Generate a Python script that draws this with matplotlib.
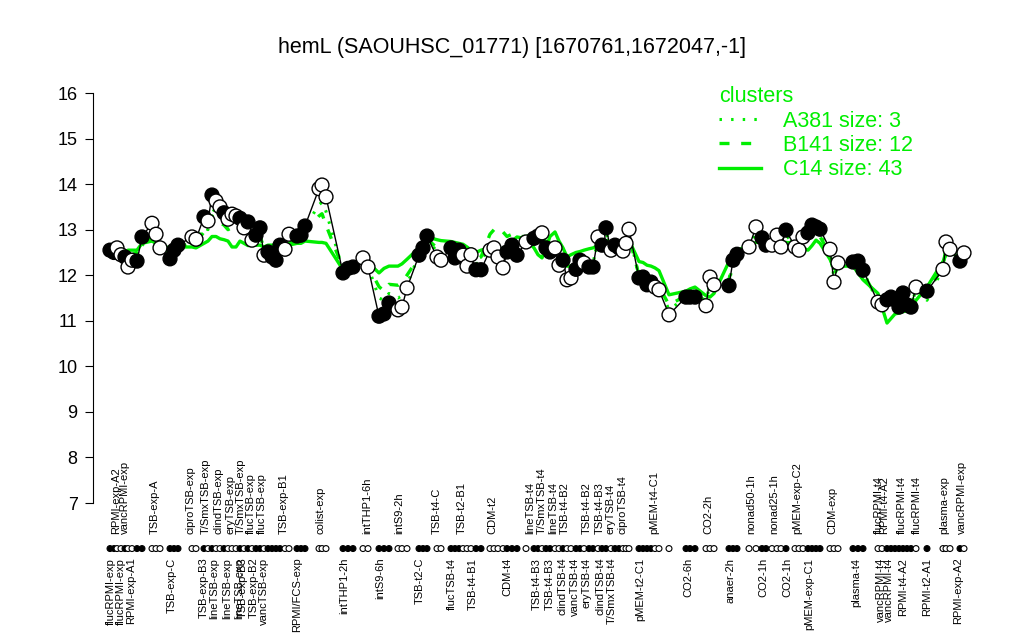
import matplotlib
matplotlib.use("Agg")
import matplotlib.pyplot as plt
from matplotlib.lines import Line2D

plt.rcParams['font.family'] = ['Liberation Sans', 'DejaVu Sans']

title = "hemL (SAOUHSC_01771) [1670761,1672047,-1]"

# sample positions along the condition axis (groups separated by gaps)
pos = [110, 114, 117, 121, 125, 128, 132, 137, 142,
       152, 156, 160,
       170, 174, 178,
       192, 196,
       204, 208, 212, 216, 220, 224, 228, 232, 236, 240, 244, 248, 252, 256, 260, 264, 268, 272, 276, 280,
       285, 289,
       297, 301, 305,
       319, 322, 326,
       343, 348, 353,
       363, 368,
       379, 384, 389,
       398, 402, 407,
       419, 423, 427,
       437, 441,
       451, 455, 459, 463, 467, 471, 476, 481,
       490, 494, 498, 503, 507, 512, 517,
       526, 534, 538, 542, 546, 550, 555, 559, 563,
       567, 571, 576, 580, 584, 589, 593, 598, 602, 606, 611, 615, 619, 623, 626, 629,
       639, 643, 647, 651, 655, 659,
       669,
       686, 690, 695,
       706, 710, 714,
       729, 733, 737,
       749, 756,
       762, 766,
       772, 777, 781, 786,
       795, 799, 803, 808, 812, 816, 820,
       830, 834, 838,
       853, 858, 863,
       878, 882, 887, 891, 895, 899, 903, 907, 911, 916,
       927,
       943, 946, 950,
       960, 964]

expr = [12.55, 12.50, 12.60, 12.45, 12.40, 12.18, 12.33, 12.31, 12.84,
        13.14, 12.90, 12.60,
        12.36, 12.55, 12.66,
        12.84, 12.79,
        13.28, 13.19, 13.76, 13.63, 13.50, 13.37, 13.23, 13.34, 13.30, 13.25, 13.04, 13.17, 12.77, 12.88,
        13.04, 12.44, 12.51, 12.40, 12.33, 12.66,
        12.57, 12.90,
        12.86, 12.88, 13.08,
        13.90, 13.98, 13.72,
        12.05, 12.15, 12.18,
        12.38, 12.18,
        11.10, 11.15, 11.39,
        11.24, 11.30, 11.72,
        12.44, 12.60, 12.86,
        12.40, 12.33,
        12.60, 12.38, 12.55, 12.44, 12.20, 12.45, 12.12, 12.12,
        12.55, 12.60, 12.40, 12.16, 12.51, 12.66, 12.44,
        12.73, 12.81, 12.86, 12.93, 12.60, 12.51, 12.60, 12.22, 12.33,
        11.90, 11.94, 12.13, 12.33, 12.27, 12.18, 12.18, 12.84, 12.66, 13.04, 12.55, 12.66, 12.60, 12.53,
        12.70, 13.01,
        11.94, 11.96, 11.79, 11.85, 11.74, 11.68,
        11.13,
        11.52, 11.52, 11.52,
        11.33, 11.96, 11.79,
        11.77, 12.33, 12.46,
        12.62, 13.06,
        12.82, 12.66,
        12.66, 12.88, 12.62, 12.99,
        12.62, 12.55, 12.84, 12.93, 13.10, 13.06, 13.01,
        12.57, 11.85, 12.27,
        12.29, 12.31, 12.11,
        11.41, 11.35, 11.46, 11.52, 11.46, 11.30, 11.61, 11.35, 11.30, 11.74,
        11.65,
        12.13, 12.73, 12.57,
        12.31, 12.49]

filled = [1, 1, 0, 0, 1, 0, 0, 1, 1,
          0, 0, 0,
          1, 1, 1,
          0, 0,
          1, 0, 1, 0, 0, 1, 0, 0, 0, 1, 0, 1, 0, 1, 1, 0, 1, 1, 1, 1,
          0, 0,
          1, 1, 1,
          0, 0, 0,
          1, 1, 1,
          0, 0,
          1, 1, 1,
          0, 0, 0,
          1, 1, 1,
          0, 0,
          1, 1, 1, 0, 0, 0, 1, 1,
          0, 0, 0, 0, 1, 1, 1,
          0, 1, 1, 0, 1, 1, 0, 0, 1,
          0, 0, 1, 1, 0, 1, 1, 0, 1, 1, 0, 1, 1, 0, 0, 0,
          1, 1, 1, 1, 0, 0,
          0,
          1, 1, 1,
          0, 0, 0,
          1, 1, 1,
          0, 0,
          1, 1,
          0, 0, 0, 1,
          0, 0, 0, 1, 1, 1, 1,
          0, 0, 0,
          1, 1, 1,
          0, 0, 1, 1, 1, 1, 1, 1, 1, 0,
          1,
          0, 0, 0,
          1, 0]

# cluster mean profiles
c14 = [12.45, 12.45, 12.50, 12.50, 12.50, 12.55, 12.55, 12.55, 12.70,
       12.75, 12.70, 12.65,
       12.60, 12.62, 12.62,
       12.62, 12.60,
       12.70, 12.75, 12.85, 12.85, 12.80, 12.78, 12.75, 12.62, 12.62, 12.75, 12.70, 12.65, 12.66, 12.66,
       12.66, 12.62, 12.66, 12.66, 12.66, 12.66,
       12.66, 12.66,
       12.70, 12.70, 12.75,
       12.72, 12.72, 12.70,
       12.12, 12.15, 12.20,
       12.30, 12.28,
       12.05, 12.15, 12.20,
       12.20, 12.25, 12.35,
       12.60, 12.75, 12.84,
       12.78, 12.76,
       12.74, 12.72, 12.70, 12.68, 12.62, 12.55, 12.50, 12.55,
       12.60, 12.62, 12.60, 12.58, 12.65, 12.75, 12.84,
       12.80, 12.60, 12.45, 12.38, 12.60, 12.85, 12.95, 12.75, 12.60,
       12.40, 12.45, 12.50, 12.52, 12.55, 12.58, 12.60, 12.65, 12.65, 12.68, 12.70, 12.70, 12.72, 12.72,
       12.75, 12.77,
       12.30, 12.28, 12.22, 12.20, 12.16, 12.10,
       11.57,
       11.65, 11.70, 11.74,
       11.55, 11.52, 11.60,
       12.30, 12.50, 12.55,
       12.65, 12.72,
       12.72, 12.75,
       12.72, 12.75, 12.70, 12.72,
       12.70, 12.65, 12.60, 12.55, 12.65, 12.77, 12.70,
       12.35, 12.15, 12.20,
       12.20, 12.05, 11.90,
       11.60, 11.30, 10.95, 11.05, 11.15, 11.17, 11.20, 11.22, 11.24, 11.45,
       11.74,
       12.30, 12.45, 12.55,
       12.50, 12.45]

b141 = [12.50, 12.50, 12.55, 12.50, 12.45, 12.40, 12.45, 12.50, 12.65,
        12.85, 12.75, 12.60,
        12.50, 12.60, 12.62,
        12.70, 12.72,
        12.95, 13.00, 13.30, 13.25, 13.15, 13.10, 13.00, 13.05, 13.05, 13.00, 12.95, 12.95, 12.80, 12.80,
        12.85, 12.60, 12.55, 12.50, 12.45, 12.55,
        12.60, 12.70,
        12.80, 12.85, 12.95,
        13.30, 13.35, 13.10,
        12.15, 12.15, 12.18,
        12.30, 12.20,
        11.75, 11.65, 11.80,
        11.78, 11.85, 12.00,
        12.40, 12.60, 12.80,
        12.60, 12.55,
        12.60, 12.50, 12.55, 12.50, 12.40, 12.45, 12.35, 12.40,
        12.90, 13.00, 13.05, 12.95, 12.85, 12.90, 12.85,
        12.85, 12.90, 12.95, 12.95, 12.70, 12.65, 12.70, 12.50, 12.45,
        12.20, 12.20, 12.30, 12.40, 12.40, 12.35, 12.35, 12.70, 12.65, 12.80, 12.60, 12.65, 12.60, 12.60,
        12.70, 12.85,
        12.00, 11.98, 11.85, 11.88, 11.80, 11.75,
        11.35,
        11.55, 11.55, 11.55,
        11.45, 11.80, 11.75,
        11.90, 12.35, 12.45,
        12.60, 12.85,
        12.80, 12.70,
        12.70, 12.80, 12.65, 12.85,
        12.65, 12.60, 12.75, 12.80, 12.95, 12.90, 12.85,
        12.45, 12.00, 12.20,
        12.25, 12.20, 12.05,
        11.45, 11.40, 11.45, 11.48, 11.45, 11.35, 11.50, 11.38, 11.35, 11.65,
        11.60,
        12.20, 12.60, 12.55,
        12.35, 12.45]

a381 = [12.45, 12.50, 12.55, 12.45, 12.40, 12.35, 12.35, 12.35, 12.65,
        12.90, 12.80, 12.60,
        12.45, 12.55, 12.65,
        12.75, 12.75,
        13.05, 13.00, 13.45, 13.40, 13.30, 13.20, 13.10, 13.15, 13.10, 13.05, 12.95, 13.00, 12.80, 12.80,
        12.90, 12.50, 12.50, 12.40, 12.35, 12.60,
        12.60, 12.75,
        12.85, 12.90, 13.05,
        13.55, 13.60, 13.40,
        12.10, 12.12, 12.15,
        12.32, 12.20,
        11.50, 11.45, 11.60,
        11.50, 11.55, 11.80,
        12.45, 12.60, 12.85,
        12.50, 12.45,
        12.60, 12.45, 12.55, 12.50, 12.30, 12.45, 12.25, 12.30,
        12.70, 12.75, 12.60, 12.50, 12.70, 12.80, 12.65,
        12.80, 12.85, 12.90, 12.95, 12.65, 12.60, 12.65, 12.35, 12.40,
        12.05, 12.10, 12.20, 12.35, 12.35, 12.25, 12.25, 12.80, 12.65, 12.95, 12.60, 12.65, 12.60, 12.55,
        12.70, 12.95,
        11.95, 11.95, 11.80, 11.85, 11.72, 11.70,
        11.25,
        11.50, 11.50, 11.50,
        11.35, 11.90, 11.75,
        11.80, 12.30, 12.45,
        12.60, 12.95,
        12.80, 12.65,
        12.65, 12.85, 12.60, 12.90,
        12.60, 12.55, 12.80, 12.85, 13.00, 12.95, 12.90,
        12.50, 11.95, 12.25,
        12.30, 12.25, 12.10,
        11.40, 11.35, 11.45, 11.50, 11.45, 11.30, 11.55, 11.35, 11.30, 11.70,
        11.45,
        12.15, 12.65, 12.55,
        12.30, 12.45]

top_pos = [116, 125, 155, 191, 206, 218, 230, 241, 251, 262, 284, 321,
           367, 399, 437, 462, 492, 530, 542, 553, 565, 587, 600, 611, 622,
           654, 708, 751, 774, 797, 832, 879, 884, 902, 917, 944, 962]
top_text = ["RPMI-exp-A2", "vancRPMI-exp", "TSB-exp-A", "ciproTSB-exp", "T/SmxTSB-exp",
            "clindTSB-exp", "eryTSB-exp", "T/SmxTSB-exp", "flucTSB-exp", "flucTSB-exp",
            "TSB-exp-B1", "colist-exp",
            "intTHP1-6h", "intS9-2h", "TSB-t4-C", "TSB-t2-B1", "CDM-t2", "lineTSB-t4",
            "T/SmxTSB-t4", "lineTSB-t4", "TSB-t4-B2", "TSB-t4-B2", "TSB-t4-B3", "eryTSB-t4",
            "ciproTSB-t4",
            "pMEM-t4-C1", "CO2-2h", "nonad50-1h", "nonad25-1h", "pMEM-exp-C2", "CDM-exp",
            "flucRPMI-t4", "RPMI-t4-A2", "flucRPMI-t4", "flucRPMI-t4", "plasma-exp", "vancRPMI-exp"]

bot_pos = [111, 121, 131, 172, 204, 214, 227, 239, 243, 254, 264, 297,
           344, 380, 420, 452, 473, 507, 537, 550, 562, 575, 587, 600, 612,
           640, 688, 731, 763, 787, 809, 856, 881, 889, 903, 927, 958]
bot_text = ["flucRPMI-exp", "flucRPMI-exp", "RPMI-exp-A1", "TSB-exp-C", "TSB-exp-B3",
            "lineTSB-exp", "lineTSB-exp", "lineTSB-exp", "TSB-exp-B3", "TSB-exp-B2",
            "vancTSB-exp", "RPMI/FCS-exp",
            "intTHP1-2h", "intS9-6h", "TSB-t2-C", "flucTSB-t4", "TSB-t4-B1", "CDM-t4",
            "TSB-t4-B3", "TSB-t4-B3", "clindTSB-t4", "vancTSB-t4", "eryTSB-t4", "clindTSB-t4",
            "T/SmxTSB-t4",
            "pMEM-t2-C1", "CO2-6h", "anaer-2h", "CO2-1h", "CO2-1h", "pMEM-exp-C1", "plasma-t4",
            "vancRPMI-t4", "vancRPMI-t4", "RPMI-t4-A2", "RPMI-t2-A1", "RPMI-exp-A2"]

green = '#00ee00'

fig = plt.figure(figsize=(10.24, 6.4), dpi=100)
ax = fig.add_axes([93 / 1024, 137 / 640, 882 / 1024, 410 / 640])
ax.set_xlim(93, 975)
ax.set_ylim(7, 16)

# cluster lines
ax.plot(pos, c14, color=green, lw=2.4, zorder=1)
ax.plot(pos, b141, color=green, lw=2.4, dashes=(3, 3.5), zorder=1)
ax.plot(pos, a381, color=green, lw=2.2, linestyle=(0, (0.8, 3)), zorder=1)

# gene profile
ax.plot(pos, expr, color='black', lw=1, zorder=2)
fc = ['black' if f else 'white' for f in filled]
ax.scatter(pos, expr, s=100, facecolors=fc, edgecolors='black', linewidths=1, zorder=3)

# condition strip
ax.scatter(pos, [6.0] * len(pos), s=18, facecolors=fc, edgecolors='black',
           linewidths=0.8, clip_on=False, zorder=3)

for p, t in zip(top_pos, top_text):
    ax.text(p, 6.32, t, rotation=90, ha='center', va='bottom', fontsize=8, clip_on=False)
for p, t in zip(bot_pos, bot_text):
    ax.text(p, 5.8, t, rotation=90, ha='center', va='top', fontsize=8, clip_on=False)

# axis styling
for s in ['top', 'right', 'bottom']:
    ax.spines[s].set_visible(False)
ax.spines['left'].set_bounds(7, 16)
ax.set_xticks([])
ax.set_yticks(range(7, 17))
ax.tick_params(axis='y', length=6, labelsize=13, pad=5)

fig.text(0.5, 1 - 47 / 640, title, ha='center', va='center', fontsize=15.5)

handles = [Line2D([], [], color=green, lw=2.2, linestyle=(0, (0.8, 3))),
           Line2D([], [], color=green, lw=2.4, dashes=(3, 3.5)),
           Line2D([], [], color=green, lw=2.4)]
labels = ["A381 size: 3", "B141 size: 12", "C14 size: 43"]
leg = ax.legend(handles, labels, title="clusters", loc='upper left',
                bbox_to_anchor=(700 / 1024, 1 - 67 / 640), bbox_transform=fig.transFigure,
                frameon=False, fontsize=15.5, title_fontsize=15.5, labelcolor=green,
                handlelength=1.95, handletextpad=1.0, labelspacing=0.15, alignment='left')
leg.get_title().set_color(green)

fig.savefig('out.png', dpi=100)
